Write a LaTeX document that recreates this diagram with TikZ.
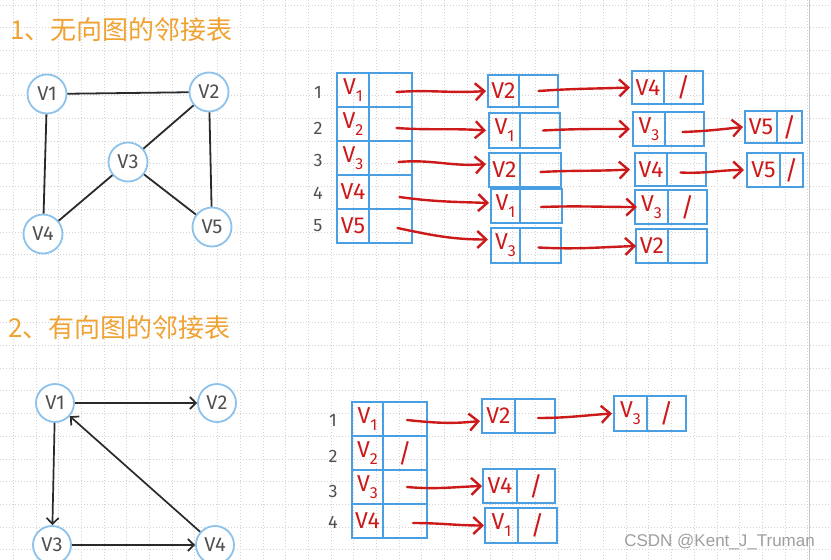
\documentclass[tikz,border=0pt]{standalone}
\usepackage{fontspec}
\setmainfont{Fira Sans}
\newfontfamily\cjkfont{Noto Sans CJK SC}
\newfontfamily\wmfont{Liberation Sans}
\usetikzlibrary{arrows.meta,calc}
\definecolor{gridc}{HTML}{D2D2D2}
\definecolor{circc}{HTML}{8CC2EC}
\definecolor{boxc}{HTML}{4A9FE2}
\definecolor{inkred}{HTML}{CC1A1A}
\definecolor{titlec}{HTML}{F0A232}
\definecolor{graytxt}{HTML}{505050}
\definecolor{edgec}{HTML}{2A2A2A}
\newcommand\mysub[1]{\raisebox{-0.3em}{\fontsize{16}{16}\selectfont #1}}
\tikzset{
  gridline/.style={gridc, line width=0.7pt, dash pattern=on 1.2pt off 1.8pt},
  vtx/.style={circle, draw=circc, line width=1.8pt, minimum size=39pt, inner sep=0pt, fill=white, text=graytxt, font=\fontsize{20}{20}\selectfont},
  cell/.style={draw=boxc, line width=2.2pt, inner sep=0pt, outer sep=0pt, anchor=north west, text=inkred, font=\fontsize{23}{23}\selectfont},
  rowlbl/.style={text=graytxt, font=\fontsize{18}{18}\selectfont},
  redarrow/.style={draw=inkred, line width=2.4pt, line cap=round, -{Straight Barb[length=9pt,width=17pt]}},
  blkedge/.style={draw=edgec, line width=1.8pt},
  blkarrow/.style={draw=edgec, line width=1.7pt, -{Straight Barb[length=6pt,width=12pt]}},
  titletext/.style={text=titlec, font=\cjkfont\fontsize{26}{26}\selectfont, anchor=west, inner sep=0pt},
}
% list box: name, x, y, w1, w2, h, text1, text2
\newcommand\lbox[8]{%
  \node[cell, minimum width=#4pt, minimum height=#6pt] (#1a) at (#2,#3) {#7};
  \node[cell, minimum width=#5pt, minimum height=#6pt, font=\fontsize{26}{26}\selectfont] (#1b) at (#1a.north east) {#8};
}
\begin{document}
\begin{tikzpicture}[x=1pt,y=-1pt]
\useasboundingbox (0,0) rectangle (831,560);
\clip (0,0) rectangle (831,560);
\fill[white] (0,0) rectangle (831,560);
% grid
\foreach \i in {0,...,35} \draw[gridline] ({13.2+22.7*\i},0) -- ({13.2+22.7*\i},560);
\foreach \j in {0,...,24} \draw[gridline] (0,{4.9+22.7*\j}) -- (831,{4.9+22.7*\j});
\draw[gray!45, line width=1pt] (809,0) -- (809,560);

% titles
\node[titletext] (t1) at (10,30) {1、无向图的邻接表};
\node[titletext] (t2) at (8,328) {2、有向图的邻接表};

% undirected graph
\node[vtx] (g1) at (47,94) {V1};
\node[vtx] (g2) at (209,92) {V2};
\node[vtx] (g3) at (128,162) {V3};
\node[vtx] (g4) at (43,234) {V4};
\node[vtx] (g5) at (212,227) {V5};
\draw[blkedge] (g1) -- (g2);
\draw[blkedge] (g1) -- (g4);
\draw[blkedge] (g2) -- (g3);
\draw[blkedge] (g2) -- (g5);
\draw[blkedge] (g3) -- (g4);
\draw[blkedge] (g3) -- (g5);

% table 1 main array
\lbox{m1}{337}{73}{32}{43}{34}{V\mysub{1}}{}
\lbox{m2}{337}{107}{32}{43}{34}{V\mysub{2}}{}
\lbox{m3}{337}{141}{32}{43}{34}{V\mysub{3}}{}
\lbox{m4}{337}{175}{32}{43}{34}{V4}{}
\lbox{m5}{337}{209}{32}{43}{34}{V5}{}
\node[rowlbl] (l1) at (318,92) {1};
\node[rowlbl] (l2) at (318,128) {2};
\node[rowlbl] (l3) at (318,160) {3};
\node[rowlbl] (l4) at (318,193) {4};
\node[rowlbl] (l5) at (318,226) {5};
% column 2
\lbox{c1}{488}{75}{31}{39}{32}{V2}{}
\lbox{c2}{489}{113}{31}{40}{35}{V\mysub{1}}{}
\lbox{c3}{489}{153}{31}{41}{34}{V2}{}
\lbox{c4}{491}{189}{29}{42}{34}{V\mysub{1}}{}
\lbox{c5}{491}{228}{29}{41}{35}{V\mysub{3}}{}
% column 3
\lbox{d1}{632}{71}{32}{39}{33}{V4}{/}
\lbox{d2}{633}{112}{32}{39}{34}{V\mysub{3}}{}
\lbox{d3}{635}{153}{32}{39}{33}{V4}{}
\lbox{d4}{635}{190}{33}{39}{34}{V\mysub{3}}{/}
\lbox{d5}{636}{229}{32}{39}{34}{V2}{}
% column 4
\lbox{e2}{745}{111}{32}{25}{32}{V5}{/}
\lbox{e3}{747}{153}{33}{23}{34}{V5}{/}

% arrows table 1
\draw[redarrow] ([shift={(6,2)}]m1b.center) to[out=4,in=184] ([shift={(-2,0)}]c1a.west);
\draw[redarrow] ([shift={(6,4)}]m2b.center) to[out=-4,in=176] ([shift={(-3,0)}]c2a.west);
\draw[redarrow] ([shift={(8,4)}]m3b.center) to[out=5,in=185] ([shift={(-3,-6)}]c3a.west);
\draw[redarrow] ([shift={(9,5)}]m4b.center) to[out=-8,in=178] ([shift={(-2,-3)}]c4a.west);
\draw[redarrow] ([shift={(7,2)}]m5b.center) to[out=-12,in=180] ([shift={(-3,-6)}]c5a.west);
\draw[redarrow] (c1b.center) to[out=4,in=182] ([shift={(-2,0)}]d1a.west);
\draw[redarrow] ([shift={(3,0)}]c2b.center) to[out=3,in=180] ([shift={(-3,0)}]d2a.west);
\draw[redarrow] ([shift={(0,2)}]c3b.center) to[out=3,in=183] ([shift={(-5,0)}]d3a.west);
\draw[redarrow] ([shift={(0,1)}]c4b.center) to[out=2,in=180] ([shift={(2,0)}]d4a.west);
\draw[redarrow] ([shift={(-2,2)}]c5b.center) to[out=-3,in=182] (d5a.west);
\draw[redarrow] ([shift={(-2,3)}]d2b.center) to[out=2,in=186] ([shift={(-2,0)}]e2a.west);
\draw[redarrow] ([shift={(-6,3)}]d3b.center) to[out=-3,in=180] ([shift={(-3,0)}]e3a.west);

% directed graph
\node[vtx, minimum size=38pt] (h1) at (55,403) {V1};
\node[vtx, minimum size=38pt] (h2) at (217,403) {V2};
\node[vtx, minimum size=38pt] (h3) at (52,545) {V3};
\node[vtx, minimum size=38pt] (h4) at (215,545) {V4};
\draw[blkarrow] (h1) -- (h2);
\draw[blkarrow] (h1) -- (h3);
\draw[blkarrow] (h3) -- (h4);
\draw[blkarrow] (h4) -- (h1);

% table 2 main array
\lbox{M1}{352}{402}{31}{44}{34}{V\mysub{1}}{}
\lbox{M2}{352}{436}{31}{44}{34}{V\mysub{2}}{/}
\lbox{M3}{352}{470}{31}{44}{34}{V\mysub{3}}{}
\lbox{M4}{352}{504}{31}{44}{34}{V4}{}
\node[rowlbl] (L1) at (333,420) {1};
\node[rowlbl] (L2) at (333,456) {2};
\node[rowlbl] (L3) at (333,491) {3};
\node[rowlbl] (L4) at (333,522) {4};
\lbox{n1}{482}{399}{33}{40}{34}{V2}{}
\lbox{n3}{483}{469}{34}{38}{34}{V4}{/}
\lbox{n4}{485}{508}{33}{39}{35}{V\mysub{1}}{/}
\lbox{p1}{614}{396}{33}{39}{35}{V\mysub{3}}{/}
\draw[redarrow] ([shift={(2,1)}]M1b.center) to[out=-6,in=186] ([shift={(-2,5)}]n1a.west);
\draw[redarrow] ([shift={(3,2)}]n1b.center) to[out=0,in=184] ([shift={(-2,0)}]p1a.west);
\draw[redarrow] ([shift={(2,0)}]M3b.center) to[out=-5,in=182] ([shift={(-1,0)}]n3a.west);
\draw[redarrow] ([shift={(8,2)}]M4b.center) to[out=0,in=180] ([shift={(-1,0)}]n4a.west);

% watermark
\node[text=gray!75, font=\wmfont\fontsize{17}{17}\selectfont, anchor=east, inner sep=0pt] (wm) at (815,542) {CSDN @Kent\_J\_Truman};
\end{tikzpicture}
\end{document}
